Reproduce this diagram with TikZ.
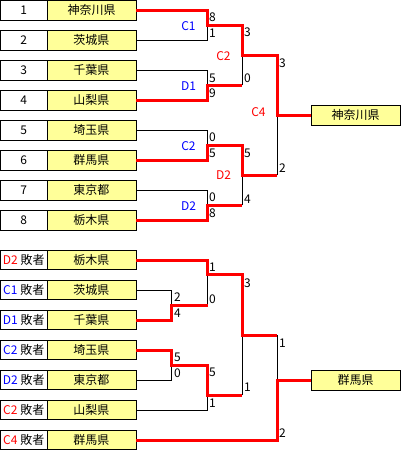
\documentclass[tikz,border=0pt]{standalone}
\usepackage{fontspec}
\setmainfont{Noto Sans CJK JP}
\definecolor{cellyellow}{RGB}{255,255,153}
\begin{document}
\begin{tikzpicture}[x=1pt,y=-1pt,
  box/.style={draw=black, line width=1pt, inner sep=0pt, outer sep=0pt, minimum height=19.5pt, font=\fontsize{12}{12}\selectfont},
  numcell/.style={box, fill=white, minimum width=46.5pt},
  namecell/.style={box, fill=cellyellow, minimum width=89pt},
  win/.style={draw=red, line width=3pt},
  lose/.style={draw=black, line width=1pt},
  score/.style={anchor=west, inner sep=0pt, font=\fontsize{12}{12}\selectfont},
  bluelab/.style={text=blue, inner sep=0pt, font=\fontsize{12}{12}\selectfont},
  redlab/.style={text=red, inner sep=0pt, font=\fontsize{12}{12}\selectfont}]
\useasboundingbox (0,0) rectangle (401,451);
% ---------- upper bracket boxes ----------
\node[numcell] (n1) at (23.75,10.25) {1};   \node[namecell] (y1) at (91.5,10.25) {神奈川県};
\node[numcell] (n2) at (23.75,40.25) {2};   \node[namecell] (y2) at (91.5,40.25) {茨城県};
\node[numcell] (n3) at (23.75,70.25) {3};   \node[namecell] (y3) at (91.5,70.25) {千葉県};
\node[numcell] (n4) at (23.75,100.25) {4};  \node[namecell] (y4) at (91.5,100.25) {山梨県};
\node[numcell] (n5) at (23.75,130.25) {5};  \node[namecell] (y5) at (91.5,130.25) {埼玉県};
\node[numcell] (n6) at (23.75,160.25) {6};  \node[namecell] (y6) at (91.5,160.25) {群馬県};
\node[numcell] (n7) at (23.75,190.25) {7};  \node[namecell] (y7) at (91.5,190.25) {東京都};
\node[numcell] (n8) at (23.75,220.25) {8};  \node[namecell] (y8) at (91.5,220.25) {栃木県};
\node[namecell, minimum height=20pt] (champ) at (355.5,115.25) {神奈川県};
% match points
\coordinate (mC1) at (207.5,25.25);
\coordinate (mD1) at (207.5,85.25);
\coordinate (mC2) at (207.5,145.25);
\coordinate (mD2) at (207.5,205.25);
\coordinate (mC2b) at (242,55.25);
\coordinate (mD2b) at (242,175.25);
\coordinate (mC4) at (277,115.25);
% losers
\draw[lose] (y2.east) -| (mC1);
\draw[lose] (y3.east) -| (mD1);
\draw[lose] (y5.east) -| (mC2);
\draw[lose] (y7.east) -| (mD2);
\draw[lose] (mD1 -| mC2b) -- (mC2b);
\draw[lose] (mD2 -| mD2b) -- (mD2b);
\draw[lose] (mD2b -| mC4) -- (mC4);
% winners
\draw[win] (y1.east) -| (mC1) -| (mC2b) -| (mC4) -- (champ.west);
\draw[win] (y4.east) -| (mD1) -- (mD1 -| mC2b);
\draw[win] (y6.east) -| (mC2) -| (mD2b) -- (mD2b -| mC4);
\draw[win] (y8.east) -| (mD2) -- (mD2 -| mD2b);
% labels
\node[bluelab] (lC1) at (188.5,26) {C1};
\node[bluelab] (lD1) at (188.5,86) {D1};
\node[bluelab] (lC2) at (188.5,146) {C2};
\node[bluelab] (lD2) at (188.5,206) {D2};
\node[redlab] (lC2b) at (223.5,56) {C2};
\node[redlab] (lD2b) at (223.5,175) {D2};
\node[redlab] (lC4) at (258.5,112.5) {C4};
% scores
\node[score] (s1) at (209,17) {8};
\node[score] (s2) at (209,33) {1};
\node[score] (s3) at (209,78) {5};
\node[score] (s4) at (209,93) {9};
\node[score] (s5) at (209,137) {0};
\node[score] (s6) at (209,153) {5};
\node[score] (s7) at (209,197) {0};
\node[score] (s8) at (209,213) {8};
\node[score] (s9) at (244,32) {3};
\node[score] (s10) at (244,78) {0};
\node[score] (s11) at (244,153) {5};
\node[score] (s12) at (244,199) {4};
\node[score] (s13) at (279,63) {3};
\node[score] (s14) at (279,168) {2};
% ---------- lower bracket boxes ----------
\node[numcell] (z0n) at (23.75,260) {{\color{red}D2} 敗者};  \node[namecell] (z0) at (91.5,260) {栃木県};
\node[numcell] (z1n) at (23.75,290) {{\color{blue}C1} 敗者}; \node[namecell] (z1) at (91.5,290) {茨城県};
\node[numcell] (z2n) at (23.75,320) {{\color{blue}D1} 敗者}; \node[namecell] (z2) at (91.5,320) {千葉県};
\node[numcell] (z3n) at (23.75,350) {{\color{blue}C2} 敗者}; \node[namecell] (z3) at (91.5,350) {埼玉県};
\node[numcell] (z4n) at (23.75,380) {{\color{blue}D2} 敗者}; \node[namecell] (z4) at (91.5,380) {東京都};
\node[numcell] (z5n) at (23.75,410) {{\color{red}C2} 敗者};  \node[namecell] (z5) at (91.5,410) {山梨県};
\node[numcell] (z6n) at (23.75,440) {{\color{red}C4} 敗者};  \node[namecell] (z6) at (91.5,440) {群馬県};
\node[namecell, minimum height=20pt] (runner) at (355.5,380) {群馬県};
% match points
\coordinate (mA) at (171.7,305);
\coordinate (mB) at (171.7,365);
\coordinate (mE) at (207.5,274.5);
\coordinate (mF) at (207.5,395);
\coordinate (mG) at (242,335);
\coordinate (mH) at (277,380);
% losers
\draw[lose] (z1.east) -| (mA);
\draw[lose] (z4.east) -| (mB);
\draw[lose] (z5.east) -| (mF);
\draw[lose] (mA -| mE) -- (mE);
\draw[lose] (mF -| mG) -- (mG);
\draw[lose] (mG -| mH) -- (mH);
% winners
\draw[win] (z0.east) -| (mE) -| (mG) -- (mG -| mH);
\draw[win] (z2.east) -| (mA) -- (mA -| mE);
\draw[win] (z3.east) -| (mB) -| (mF) -- (mF -| mG);
\draw[win] (z6.east) -| (mH) -- (runner.west);
% scores
\node[score] (t1) at (174,297) {2};
\node[score] (t2) at (174,313) {4};
\node[score] (t3) at (174,357) {5};
\node[score] (t4) at (174,373) {0};
\node[score] (t5) at (209,267) {1};
\node[score] (t6) at (209,299) {0};
\node[score] (t7) at (209,372) {5};
\node[score] (t8) at (209,403) {1};
\node[score] (t9) at (244,283) {3};
\node[score] (t10) at (244,387) {1};
\node[score] (t11) at (279,343) {1};
\node[score] (t12) at (279,433) {2};
\end{tikzpicture}
\end{document}
